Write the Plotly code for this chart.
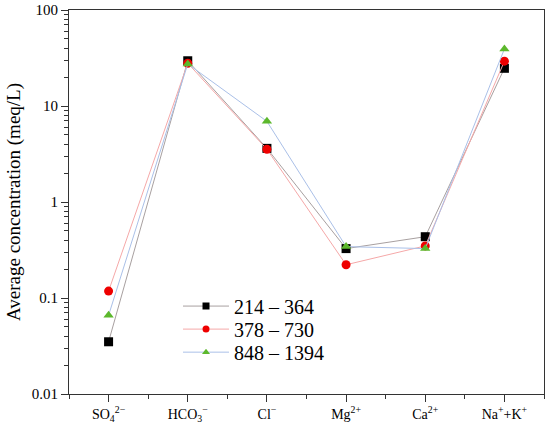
import plotly.graph_objects as go

# ion categories (x axis) and average concentrations (meq/L) per depth range
ions = ["SO<sub>4</sub><sup>2−</sup>", "HCO<sub>3</sub><sup>−</sup>", "Cl<sup>−</sup>",
        "Mg<sup>2+</sup>", "Ca<sup>2+</sup>", "Na<sup>+</sup>+K<sup>+</sup>"]
x_pos = [0, 1, 2, 3, 4, 5]

d214_364 = [0.035, 29.6, 3.62, 0.327, 0.435, 24.7]
d378_730 = [0.118, 27.9, 3.54, 0.222, 0.349, 29.3]
d848_1394 = [0.066, 27.4, 6.92, 0.343, 0.327, 39.3]

series = [
    ("214 – 364", d214_364, "square", "black", "#a8a0a0"),
    ("378 – 730", d378_730, "circle", "#ee0000", "#f5a8a8"),
    ("848 – 1394", d848_1394, "triangle-up", "#5cb82c", "#aac0e8"),
]

font_family = "Liberation Serif"

fig = go.Figure()
for name, vals, sym, mcol, lcol in series:
    fig.add_trace(go.Scatter(
        x=x_pos, y=vals, name=name, mode="lines+markers", showlegend=False,
        line=dict(color=lcol, width=1),
        marker=dict(symbol=sym, color=mcol, size=9),
    ))

# one legend per row so the rows sit as tightly as in the original
legend_ids = ["legend", "legend2", "legend3"]
legend_y = [0.229, 0.169, 0.109]
for (name, vals, sym, mcol, lcol), lid in zip(series, legend_ids):
    fig.add_trace(go.Scatter(
        x=[None], y=[None], name=name, mode="lines+markers", legend=lid,
        line=dict(color=lcol, width=1),
        marker=dict(symbol=sym, color=mcol, size=7),
    ))

legend_style = dict(x=0.2295, xanchor="left", yanchor="middle",
                    bgcolor="rgba(0,0,0,0)", font=dict(size=20, family=font_family),
                    itemwidth=46)

fig.update_layout(
    width=550, height=425,
    margin=dict(l=69, r=6, t=10, b=31),
    plot_bgcolor="white", paper_bgcolor="white",
    font=dict(family=font_family, color="black", size=14),
    showlegend=True,
    legend=dict(y=legend_y[0], **legend_style),
    legend2=dict(y=legend_y[1], **legend_style),
    legend3=dict(y=legend_y[2], **legend_style),
)

fig.update_xaxes(
    range=[-0.5, 5.5], tickvals=x_pos, ticktext=ions, automargin=False,
    showline=True, linecolor="#333", linewidth=1, mirror=True,
    ticks="outside", ticklen=7, tickcolor="#333",
    minor=dict(tickvals=[-0.5, 0.5, 1.5, 2.5, 3.5, 4.5, 5.5], ticks="outside", ticklen=4, tickcolor="#333"),
    showgrid=False, zeroline=False, tickfont=dict(size=14, family=font_family),
)

fig.update_yaxes(
    type="log", range=[-2, 2], automargin=False,
    tickvals=[0.01, 0.1, 1, 10, 100], ticktext=["0.01", "0.1", "1", "10", "100"],
    showline=True, linecolor="#333", linewidth=1, mirror=True,
    ticks="outside", ticklen=7, tickcolor="#333",
    minor=dict(ticks="outside", ticklen=4, tickcolor="#333", dtick="D1"),
    showgrid=False, zeroline=False, tickfont=dict(size=15, family=font_family),
    title=dict(text="Average concentration (meq/L)", font=dict(size=19, family=font_family), standoff=6),
)

fig.write_html("out.html", config={"displayModeBar": False},
               post_script="document.body.style.margin='0';")
